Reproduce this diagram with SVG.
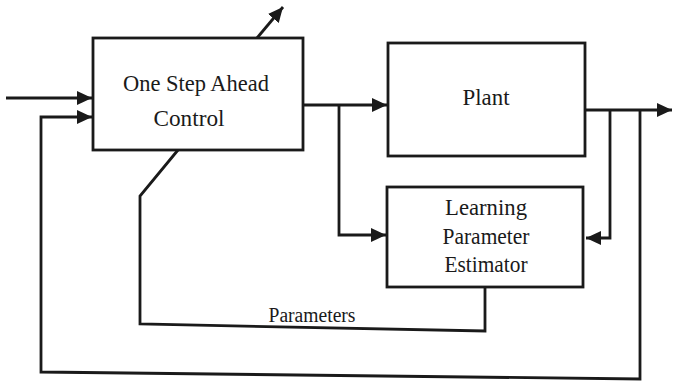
<svg xmlns="http://www.w3.org/2000/svg" width="673" height="384" viewBox="0 0 673 384">
<style>
.box{fill:#fff;stroke:#1a1a1a;stroke-width:2.8}
.ln{fill:none;stroke:#1a1a1a;stroke-width:2.8}
.t{font-family:"Liberation Serif","Times New Roman",serif;font-size:24px;fill:#1a1a1a;text-anchor:middle}
.s{font-size:20px}
</style>
<defs>
<marker id="ah" markerUnits="userSpaceOnUse" markerWidth="16" markerHeight="16" refX="15" refY="7" orient="auto" viewBox="0 0 16 14">
<path d="M0,0 L15,7 L0,14 z" fill="#1a1a1a"/>
</marker>
</defs>
<g id="connectors">
<path class="ln" d="M6,98 H92" marker-end="url(#ah)"/>
<path class="ln" d="M303,105 H387" marker-end="url(#ah)"/>
<path class="ln" d="M339,105 V235 H386" marker-end="url(#ah)"/>
<path class="ln" d="M585,110 H672" marker-end="url(#ah)"/>
<path class="ln" d="M610,110 V238 H586" marker-end="url(#ah)"/>
<path class="ln" d="M640,110 V379 L41,372 V117 H92" marker-end="url(#ah)"/>
<path class="ln" d="M485,287 V331 L140,324 V196 L178,150"/>
<path class="ln" d="M257,38 L283,7" marker-end="url(#ah)"/>
</g>
<g id="control">
<rect class="box" x="93" y="38" width="210" height="112"/>
<text class="t" x="196" y="91" textLength="146" lengthAdjust="spacingAndGlyphs">One Step Ahead</text>
<text class="t" x="189" y="126" textLength="71" lengthAdjust="spacingAndGlyphs">Control</text>
</g>
<g id="plant">
<rect class="box" x="388" y="43" width="197" height="113"/>
<text class="t" x="486" y="105" textLength="47" lengthAdjust="spacingAndGlyphs">Plant</text>
</g>
<g id="estimator">
<rect class="box" x="387" y="187" width="196" height="100"/>
<text class="t" x="486" y="215" textLength="82" lengthAdjust="spacingAndGlyphs">Learning</text>
<text class="t" x="486" y="244" textLength="87" lengthAdjust="spacingAndGlyphs">Parameter</text>
<text class="t" x="486" y="272" textLength="83" lengthAdjust="spacingAndGlyphs">Estimator</text>
</g>
<g id="labels">
<text class="t s" x="312" y="322" textLength="87" lengthAdjust="spacingAndGlyphs">Parameters</text>
</g>
</svg>
